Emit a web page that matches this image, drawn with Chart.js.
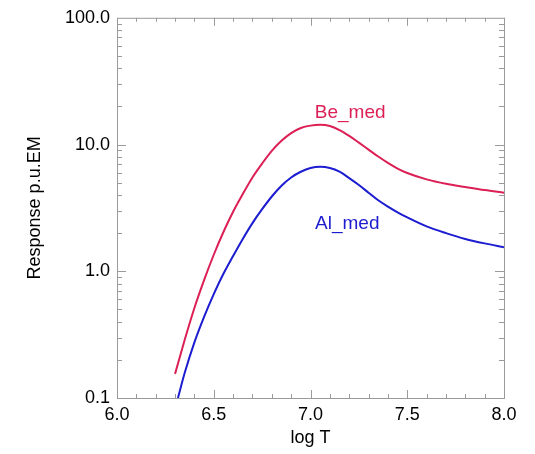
<!DOCTYPE html>
<html>
<head>
<meta charset="utf-8">
<script src="https://cdn.jsdelivr.net/npm/chart.js@4.4.1/dist/chart.umd.min.js"></script>
<style>
  html, body { margin: 0; padding: 0; background: #fff; }
  #contenedor { width: 535px; height: 454px; }
</style>
</head>
<body>
<div id="contenedor"><canvas id="graficoRespuesta"></canvas></div>
<script>
// datos (log T, respuesta p.u.EM)
const logT_be = [6.30, 6.35, 6.40, 6.45, 6.50, 6.55, 6.60, 6.65, 6.70, 6.75, 6.80, 6.85, 6.90, 6.95, 7.00, 7.05, 7.10, 7.15, 7.20, 7.25, 7.30, 7.35, 7.40, 7.45, 7.50, 7.60, 7.70, 7.80, 7.90, 8.00];
const resp_be = [0.155, 0.288, 0.513, 0.851, 1.35, 2.04, 2.95, 4.07, 5.50, 7.08, 8.91, 10.7, 12.3, 13.5, 14.1, 14.3, 14.0, 13.0, 11.7, 10.35, 9.12, 8.04, 7.16, 6.46, 5.96, 5.31, 4.90, 4.62, 4.37, 4.17];

const logT_al = [6.315, 6.35, 6.40, 6.45, 6.50, 6.55, 6.60, 6.65, 6.70, 6.75, 6.80, 6.85, 6.90, 6.95, 7.00, 7.05, 7.10, 7.15, 7.20, 7.25, 7.30, 7.35, 7.40, 7.45, 7.50, 7.60, 7.70, 7.80, 7.90, 8.00];
const resp_al = [0.1, 0.158, 0.275, 0.437, 0.661, 0.955, 1.32, 1.80, 2.40, 3.09, 3.89, 4.73, 5.50, 6.10, 6.53, 6.68, 6.53, 6.10, 5.43, 4.79, 4.17, 3.63, 3.24, 2.92, 2.66, 2.26, 2.0, 1.80, 1.66, 1.55];

// etiquetas de los ejes
const ticksX = [6.0, 6.5, 7.0, 7.5, 8.0];
const ticksY = [0.1, 1, 10, 100];
const etiquetasY = ["0.1", "1.0", "10.0", "100.0"];

// nombres de las curvas y donde van escritos (en coordenadas de datos)
const nombres = ["Be_med", "Al_med"];
const posNombreX = [7.205, 7.19];
const posNombreY = [17.8, 2.37];

const colorBe = "#dc1f55";
const colorAl = "#1c1cd0";
const colorEje = "#9a9a9a";
const fuente = "'Liberation Sans', Arial, Helvetica, sans-serif";

function puntos(xs, ys) {
  return xs.map((x, i) => ({ x: x, y: ys[i] }));
}

// marco y marcas hacia adentro, estilo IDL
const marcoPlugin = {
  id: "marco",
  afterDraw(chart) {
    const ctx = chart.ctx;
    const area = chart.chartArea;
    const sx = chart.scales.x;
    const sy = chart.scales.y;
    ctx.save();
    ctx.strokeStyle = colorEje;
    ctx.lineWidth = 1;
    ctx.strokeRect(area.left + 0.5, area.top + 0.5, area.right - area.left, area.bottom - area.top);

    ctx.beginPath();
    // marcas en x, cada 0.1 (mayores cada 0.5)
    for (let i = 0; i <= 20; i++) {
      const v = 6 + i * 0.1;
      const px = Math.round(sx.getPixelForValue(v)) + 0.5;
      const largo = i % 5 === 0 ? 8 : 4;
      ctx.moveTo(px, area.bottom);
      ctx.lineTo(px, area.bottom - largo);
      ctx.moveTo(px, area.top);
      ctx.lineTo(px, area.top + largo);
    }
    // marcas en y, log
    for (let d = -1; d <= 1; d++) {
      for (let m = 1; m <= 9; m++) {
        const v = m * Math.pow(10, d);
        const py = Math.round(sy.getPixelForValue(v)) + 0.5;
        const largo = m === 1 ? 9 : 5;
        ctx.moveTo(area.left, py);
        ctx.lineTo(area.left + largo, py);
        ctx.moveTo(area.right, py);
        ctx.lineTo(area.right - largo, py);
      }
    }
    ctx.stroke();

    // nombres de las curvas
    ctx.font = "19px " + fuente;
    ctx.textAlign = "center";
    ctx.textBaseline = "middle";
    const colores = [colorBe, colorAl];
    nombres.forEach((n, i) => {
      ctx.fillStyle = colores[i];
      ctx.fillText(n, sx.getPixelForValue(posNombreX[i]), sy.getPixelForValue(posNombreY[i]));
    });
    ctx.restore();
  }
};

function crearGrafico() {
  const ctx = document.getElementById("graficoRespuesta").getContext("2d");
  new Chart(ctx, {
    type: "line",
    data: {
      datasets: [
        {
          label: nombres[0],
          data: puntos(logT_be, resp_be),
          borderColor: colorBe,
          borderWidth: 2,
          pointRadius: 0,
          cubicInterpolationMode: "monotone",
          fill: false
        },
        {
          label: nombres[1],
          data: puntos(logT_al, resp_al),
          borderColor: colorAl,
          borderWidth: 2,
          pointRadius: 0,
          cubicInterpolationMode: "monotone",
          fill: false
        }
      ]
    },
    options: {
      responsive: true,
      maintainAspectRatio: false,
      animation: false,
      layout: { padding: { left: 0, top: 14, right: 31, bottom: 0 } },
      plugins: {
        legend: { display: false },
        tooltip: { enabled: false }
      },
      scales: {
        x: {
          type: "linear",
          min: 6,
          max: 8,
          grid: { display: false, drawTicks: false },
          border: { display: false },
          afterBuildTicks(scale) {
            scale.ticks = ticksX.map(v => ({ value: v }));
          },
          afterFit(scale) { scale.height = 56; },
          ticks: {
            padding: 6,
            color: "#000",
            font: { size: 18, family: fuente },
            callback: v => Number(v).toFixed(1)
          },
          title: {
            display: true,
            text: "log T",
            color: "#000",
            font: { size: 18, family: fuente },
            padding: { top: 0, bottom: 5 }
          }
        },
        y: {
          type: "logarithmic",
          min: 0.1,
          max: 100,
          grid: { display: false, drawTicks: false },
          border: { display: false },
          afterBuildTicks(scale) {
            scale.ticks = ticksY.map(v => ({ value: v }));
          },
          afterFit(scale) { scale.width = 117; },
          ticks: {
            padding: 7,
            color: "#000",
            font: { size: 18, family: fuente },
            callback: function (v) {
              const i = ticksY.indexOf(v);
              return i >= 0 ? etiquetasY[i] : "";
            }
          },
          title: {
            display: true,
            text: "Response p.u.EM",
            color: "#000",
            font: { size: 18, family: fuente },
            padding: { top: 24, bottom: 0 }
          }
        }
      }
    },
    plugins: [marcoPlugin]
  });
}

window.onload = () => {
  crearGrafico();
};
</script>
</body>
</html>
